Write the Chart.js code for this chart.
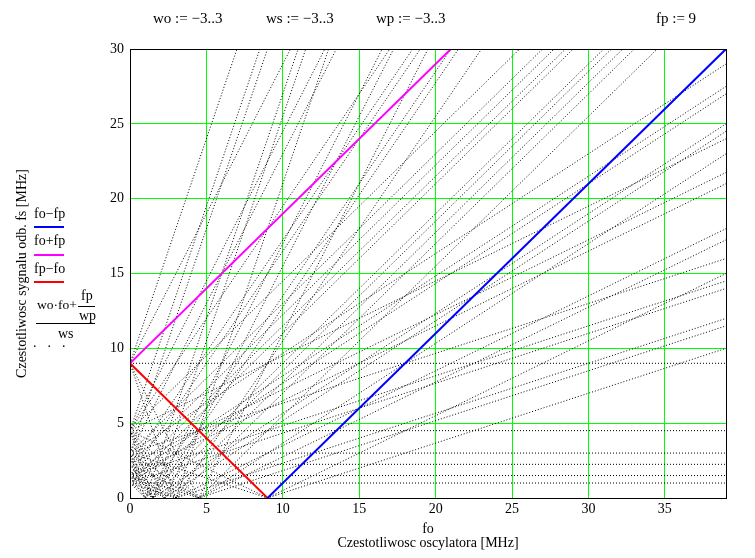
<!DOCTYPE html>
<html>
<head>
<meta charset="utf-8">
<script src="https://cdn.jsdelivr.net/npm/chart.js@4.4.0/dist/chart.umd.min.js"></script>
<style>
body { margin: 0; background: #fff; }
#wrap { position: relative; width: 755px; height: 558px; font-family: "Liberation Serif", "Times New Roman", serif; color: #000; }
#wrap canvas { position: absolute; left: 0; top: 0; }
.t { position: absolute; white-space: nowrap; line-height: 1; }
.bar { position: absolute; }
</style>
</head>
<body>
<div id="wrap">
<canvas id="myChart01" width="755" height="558"></canvas>

<div class="t" style="left:153px;top:11px;font-size:15px">wo := &minus;3..3</div>
<div class="t" style="left:266px;top:11px;font-size:15px">ws := &minus;3..3</div>
<div class="t" style="left:376px;top:11px;font-size:15px">wp := &minus;3..3</div>
<div class="t" style="left:656px;top:11px;font-size:15px">fp := 9</div>

<div class="t" style="left:34px;top:207px;font-size:14px">fo&minus;fp</div>
<div class="bar" style="left:34px;top:226px;width:30px;height:2px;background:#0000ff"></div>
<div class="t" style="left:34px;top:234px;font-size:14px">fo+fp</div>
<div class="bar" style="left:34px;top:254px;width:30px;height:2px;background:#ff00ff"></div>
<div class="t" style="left:34px;top:262px;font-size:14px">fp&minus;fo</div>
<div class="bar" style="left:34px;top:281px;width:30px;height:2px;background:#ff0000"></div>

<div class="t" style="left:81px;top:289px;font-size:14px">fp</div>
<div class="t" style="left:37px;top:298px;font-size:13.5px">wo&middot;fo+</div>
<div class="bar" style="left:78px;top:306px;width:17px;height:1px;background:#000"></div>
<div class="t" style="left:79px;top:309px;font-size:14px">wp</div>
<div class="bar" style="left:36px;top:323px;width:59px;height:1px;background:#000"></div>
<div class="t" style="left:58px;top:327px;font-size:14px">ws</div>
<div class="t" style="left:33px;top:336px;font-size:14px;letter-spacing:11px">...</div>
</div>

<script>
// range variables shown above the plot
var woValues = [-3, -2, -1, 0, 1, 2, 3];
var wsValues = [-3, -2, -1, 0, 1, 2, 3];
var wpValues = [-3, -2, -1, 0, 1, 2, 3];
var fp = 9;
var foRange = [0, 39];
var yRange = [0, 30];
var xTickStep = 5;
var yTickStep = 5;

function lineData(fn) {
    return foRange.map(function (fo) { return {x: fo, y: fn(fo)}; });
}

var datasets = [
    {label: "fo-fp", data: lineData(function (fo) { return fo - fp; }), borderColor: "#0000ff", borderWidth: 2},
    {label: "fo+fp", data: lineData(function (fo) { return fo + fp; }), borderColor: "#ff00ff", borderWidth: 2},
    {label: "fp-fo", data: lineData(function (fo) { return fp - fo; }), borderColor: "#ff0000", borderWidth: 2}
];

var seen = {};
woValues.forEach(function (wo) {
    wsValues.forEach(function (ws) {
        wpValues.forEach(function (wp) {
            if (ws === 0 || wp === 0) return;
            var f = function (fo) { return (wo * fo + fp / wp) / ws; };
            var key = f(foRange[0]).toFixed(4) + "|" + f(foRange[1]).toFixed(4);
            if (seen[key]) return;
            seen[key] = true;
            datasets.push({
                label: "",
                data: lineData(f),
                borderColor: "#000",
                borderWidth: 1,
                borderDash: [1, 2]
            });
        });
    });
});

datasets.forEach(function (d) {
    d.showLine = true;
    d.pointRadius = 0;
    d.fill = false;
});

var frame = {
    id: "frame",
    afterDraw: function (chart) {
        var a = chart.chartArea, ctx = chart.ctx;
        ctx.save();
        ctx.strokeStyle = "#000";
        ctx.lineWidth = 1;
        ctx.strokeRect(Math.round(a.left) + 0.5, Math.round(a.top) + 0.5,
            Math.round(a.right - a.left), Math.round(a.bottom - a.top));
        ctx.restore();
    }
};

var serif = "'Liberation Serif', 'Times New Roman', serif";

var chartPlaceholder01 = document.getElementById("myChart01");
var newChart01 = new Chart(chartPlaceholder01, {
    type: 'scatter',
    data: {datasets: datasets},
    plugins: [frame],
    options: {
        responsive: false,
        animation: false,
        devicePixelRatio: 1,
        layout: {padding: {top: 49, right: 29, left: 0, bottom: 0}},
        plugins: {legend: {display: false}, tooltip: {enabled: false}},
        scales: {
            x: {
                type: 'linear',
                min: foRange[0],
                max: foRange[1],
                afterFit: function (s) { s.height = 60; },
                ticks: {stepSize: xTickStep, includeBounds: false, color: "#000", padding: 3,
                    font: {family: serif, size: 14}, maxRotation: 0},
                grid: {color: "#00ff00", lineWidth: 1, drawTicks: false},
                border: {display: false},
                title: {display: true, text: ["fo", "Czestotliwosc oscylatora [MHz]"], color: "#000",
                    font: {family: serif, size: 14, lineHeight: 1.0}, padding: {top: 0, bottom: 8}}
            },
            y: {
                type: 'linear',
                min: yRange[0],
                max: yRange[1],
                afterFit: function (s) { s.width = 130; },
                ticks: {stepSize: yTickStep, color: "#000", padding: 6,
                    font: {family: serif, size: 14}},
                grid: {color: "#00ff00", lineWidth: 1, drawTicks: false},
                border: {display: false},
                title: {display: true, text: "Czestotliwosc sygnalu odb. fs [MHz]", color: "#000",
                    font: {family: serif, size: 14, lineHeight: 1.0}, padding: {top: 15, bottom: 0}}
            }
        }
    }
});
</script>
</body>
</html>
